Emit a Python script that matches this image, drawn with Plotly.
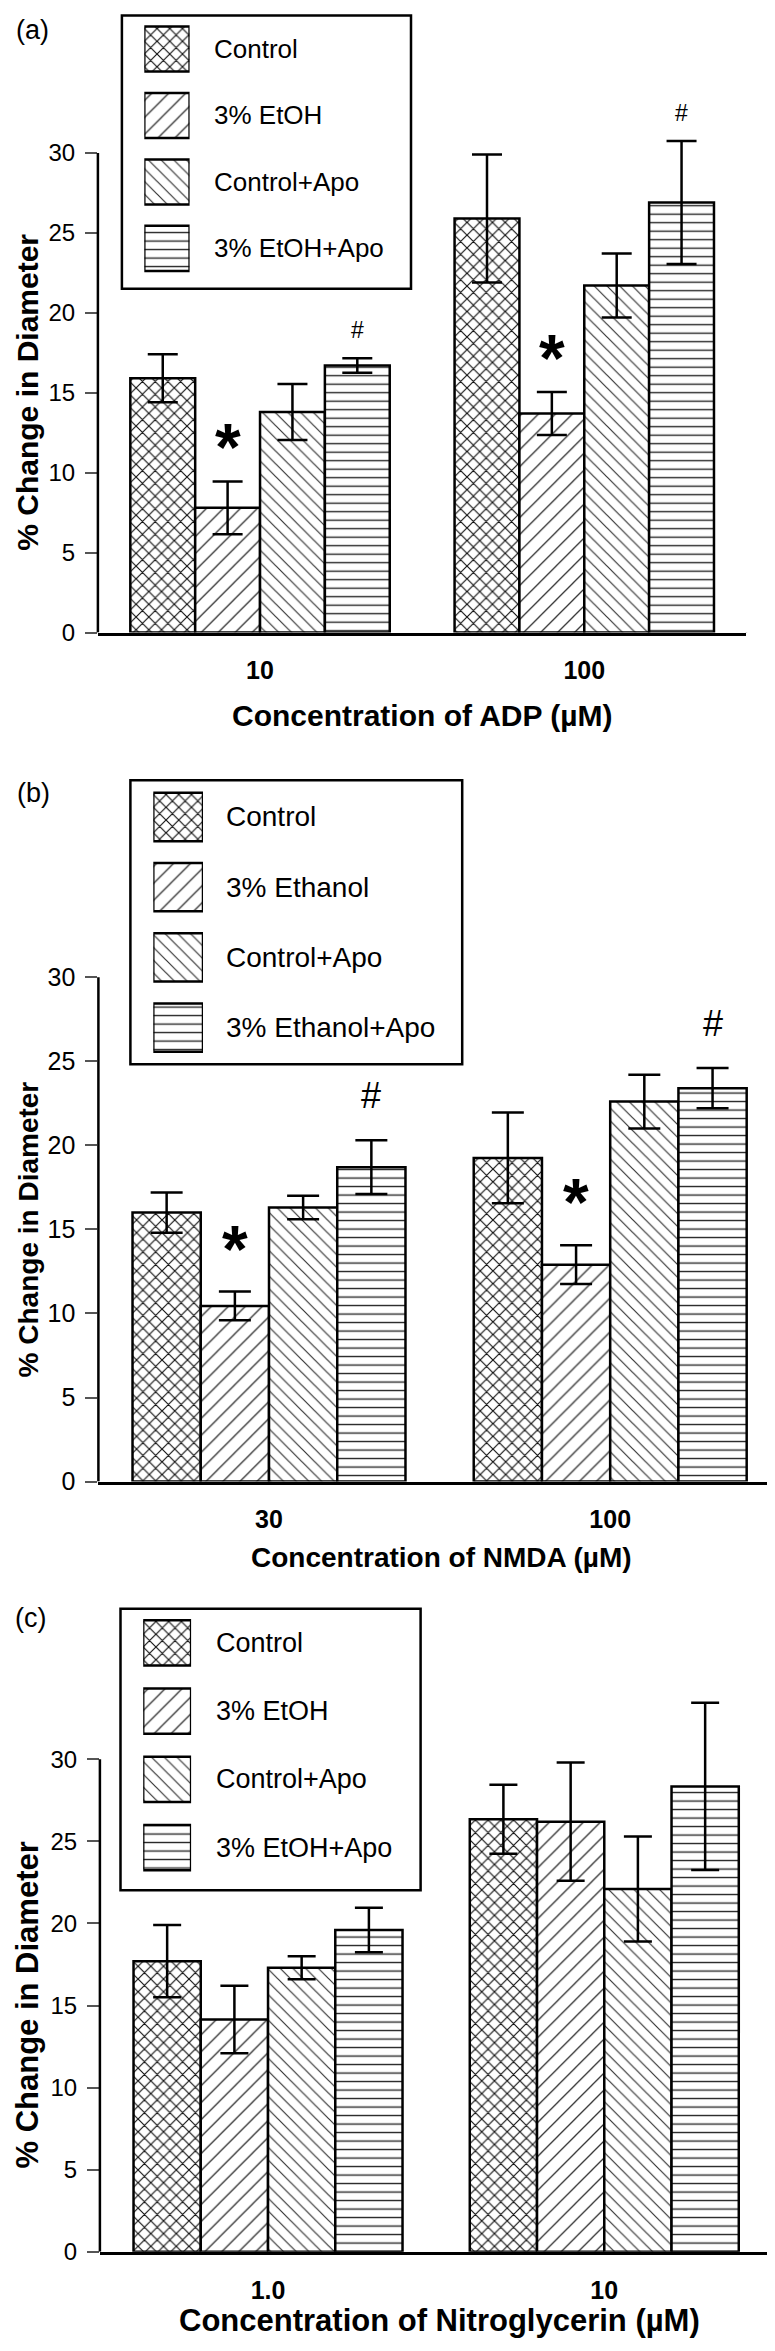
import plotly.graph_objects as go

W, H = 775, 2351
FONT = "Liberation Sans, Arial, Helvetica, sans-serif"

# ---------------- data ----------------
adp_conc = ["10", "100"]
adp_series = ["Control", "3% EtOH", "Control+Apo", "3% EtOH+Apo"]
adp_control = [15.9, 25.9]
adp_etoh = [7.8, 13.7]
adp_control_apo = [13.8, 21.7]
adp_etoh_apo = [16.7, 26.9]
adp_control_err = [1.5, 4.0]
adp_etoh_err = [1.65, 1.35]
adp_control_apo_err = [1.75, 2.0]
adp_etoh_apo_err = [0.45, 3.85]
adp_marks = [(0, 1, "*"), (1, 1, "*"), (0, 3, "#"), (1, 3, "#")]

nmda_conc = ["30", "100"]
nmda_series = ["Control", "3% Ethanol", "Control+Apo", "3% Ethanol+Apo"]
nmda_control = [16.0, 19.25]
nmda_ethanol = [10.45, 12.9]
nmda_control_apo = [16.3, 22.6]
nmda_ethanol_apo = [18.7, 23.4]
nmda_control_err = [1.2, 2.7]
nmda_ethanol_err = [0.85, 1.15]
nmda_control_apo_err = [0.7, 1.6]
nmda_ethanol_apo_err = [1.6, 1.2]
nmda_marks = [(0, 1, "*"), (1, 1, "*"), (0, 3, "#"), (1, 3, "#")]

ntg_conc = ["1.0", "10"]
ntg_series = ["Control", "3% EtOH", "Control+Apo", "3% EtOH+Apo"]
ntg_control = [17.7, 26.35]
ntg_etoh = [14.15, 26.2]
ntg_control_apo = [17.3, 22.1]
ntg_etoh_apo = [19.6, 28.35]
ntg_control_err = [2.2, 2.1]
ntg_etoh_err = [2.05, 3.6]
ntg_control_apo_err = [0.7, 3.2]
ntg_etoh_apo_err = [1.35, 5.1]
ntg_marks = []

y_ticks = [0, 5, 10, 15, 20, 25, 30]

# ---------------- styles ----------------
PAT_SHAPE = ["x", "/", "\\", "-"]
PAT_SIZE = [9, 12, 9, 8.5]
PAT_SOLID = [0.24, 0.11, 0.13, 0.16]
PAT_FG = ["#111", "#333", "#333", "#222"]

panels = [
    dict(label="(a)", cats=adp_conc, names=adp_series,
         means=[adp_control, adp_etoh, adp_control_apo, adp_etoh_apo],
         errs=[adp_control_err, adp_etoh_err, adp_control_apo_err, adp_etoh_apo_err],
         marks=adp_marks, xtitle="Concentration of ADP (\u00b5M)",
         x0=89.9, x1=738.4, y0=628.3, y30=145.75, rmax=36,
         box=(113.9, 7.5, 403.0, 282.5), swx=(136.3, 181.6), rows=(41.3, 241.8), swh=45.3,
         textx=204, legfont=26, labelxy=(6, 22.4), ytitle_size=30, ytitle_x=20,
         xtitle_xy=(414, 711.4), xtitle_size=30, tick_size=24, xtick_size=25, cap=15,
         ast=(66, -5), hsh=(23, 13)),
    dict(label="(b)", cats=nmda_conc, names=nmda_series,
         means=[nmda_control, nmda_ethanol, nmda_control_apo, nmda_ethanol_apo],
         errs=[nmda_control_err, nmda_ethanol_err, nmda_control_apo_err, nmda_ethanol_apo_err],
         marks=nmda_marks, xtitle="Concentration of NMDA (\u00b5M)",
         x0=90.4, x1=772.8, y0=1482.4, y30=975.0, rmax=36,
         box=(122.4, 777.0, 454.2, 1062.5), swx=(145.3, 195.0), rows=(813.8, 1025.7), swh=48.7,
         textx=216.4, legfont=28, labelxy=(7, 790), ytitle_size=28, ytitle_x=20,
         xtitle_xy=(433, 1559), xtitle_size=28, tick_size=25, xtick_size=25, cap=16,
         ast=(66, 4), hsh=(36, 22)),
    dict(label="(c)", cats=ntg_conc, names=ntg_series,
         means=[ntg_control, ntg_etoh, ntg_control_apo, ntg_etoh_apo],
         errs=[ntg_control_err, ntg_etoh_err, ntg_control_apo_err, ntg_etoh_apo_err],
         marks=ntg_marks, xtitle="Concentration of Nitroglycerin (\u00b5M)",
         x0=91.9, x1=764.4, y0=2257.2, y30=1761.8, rmax=36,
         box=(112.5, 1610.4, 412.6, 1893.5), swx=(135.2, 183.1), rows=(1644.7, 1850.6), swh=45.4,
         textx=205.8, legfont=27, labelxy=(5, 1619.5), ytitle_size=31, ytitle_x=20,
         xtitle_xy=(432, 2326.8), xtitle_size=31, tick_size=24, xtick_size=25, cap=14,
         ast=(66, -5), hsh=(23, 13)),
]


def px(x):
    return x / W


def py(y):
    return 1 - y / H


fig = go.Figure()
shapes = []
annotations = []
layout = {}

for i, p in enumerate(panels):
    n = i + 1
    ln = i + 4
    xa = "x" if n == 1 else f"x{n}"
    ya = "y" if n == 1 else f"y{n}"
    xl, yl = f"x{ln}", f"y{ln}"
    xkey = "xaxis" if n == 1 else f"xaxis{n}"
    ykey = "yaxis" if n == 1 else f"yaxis{n}"

    upp = (p["y0"] - p["y30"]) / 30.0
    ytop = p["y0"] - p["rmax"] * upp

    # main bars
    for s in range(4):
        fig.add_trace(go.Bar(
            x=p["cats"], y=p["means"][s], name=p["names"][s],
            xaxis=xa, yaxis=ya, showlegend=False, hoverinfo="skip",
            error_y=dict(type="data", array=p["errs"][s], visible=True,
                         color="black", thickness=2.5, width=p["cap"]),
            marker=dict(color="white", line=dict(color="black", width=2.5),
                        pattern=dict(shape=PAT_SHAPE[s], size=PAT_SIZE[s],
                                     solidity=PAT_SOLID[s], fgcolor=PAT_FG[s],
                                     bgcolor="white", fillmode="replace")),
        ))

    layout[xkey] = dict(domain=[px(p["x0"]), min(1.0, px(p["x1"]))], anchor=ya,
                        type="category", range=[-0.5, 1.5], showline=True,
                        linecolor="black", linewidth=2.5, ticks="", showgrid=False,
                        zeroline=False, ticklabelstandoff=14,
                        tickfont=dict(family=FONT, size=p["xtick_size"], color="black",
                                      weight="bold"))
    layout[ykey] = dict(domain=[py(p["y0"]), py(ytop)], anchor=xa,
                        range=[0, p["rmax"]], tickvals=y_ticks, ticks="outside",
                        ticklen=12, tickwidth=1.5, tickcolor="#555", showline=False,
                        showgrid=False, zeroline=False, ticklabelstandoff=5,
                        tickfont=dict(family=FONT, size=p["tick_size"], color="black"))

    # y axis line from 0 to 30
    shapes.append(dict(type="line", xref=f"{xa} domain", yref=ya, x0=0, x1=0,
                       y0=0, y1=30, line=dict(color="black", width=2.5)))
    # end ticks on the x axis
    for xe in (0, 1):
        shapes.append(dict(type="line", xref=f"{xa} domain", yref=ya, x0=xe, x1=xe,
                           ysizemode="pixel", yanchor=0, y0=0, y1=-14,
                           line=dict(color="#666", width=1.5)))

    # significance marks
    for g, s, sym in p["marks"]:
        xo = g + (s - 1.5) * 0.2
        top = p["means"][s][g] + p["errs"][s][g]
        if sym == "*":
            size, shift = p["ast"]
            f = dict(family=FONT, size=size, color="black", weight="bold")
        else:
            size, shift = p["hsh"]
            f = dict(family=FONT, size=size, color="black")
        annotations.append(dict(text=sym, xref=xa, yref=ya, x=xo, y=top,
                                yanchor="bottom", xanchor="center", yshift=shift,
                                showarrow=False, font=f))

    # axis titles
    annotations.append(dict(text="% Change in Diameter", xref="paper", yref=ya,
                            x=px(p["ytitle_x"]), y=15, textangle=-90, showarrow=False,
                            xanchor="center", yanchor="middle",
                            font=dict(family=FONT, size=p["ytitle_size"], color="black",
                                      weight="bold")))
    annotations.append(dict(text=p["xtitle"], xref="paper", yref="paper",
                            x=px(p["xtitle_xy"][0]), y=py(p["xtitle_xy"][1]),
                            xanchor="center", yanchor="middle", showarrow=False,
                            font=dict(family=FONT, size=p["xtitle_size"], color="black",
                                      weight="bold")))
    # panel label
    annotations.append(dict(text=p["label"], xref="paper", yref="paper",
                            x=px(p["labelxy"][0]), y=py(p["labelxy"][1]),
                            xanchor="left", yanchor="middle", showarrow=False,
                            font=dict(family=FONT, size=27, color="black")))

    # legend: box, swatches (bars on a hidden axis), texts
    bx0, by0, bx1, by1 = p["box"]
    shapes.append(dict(type="rect", xref="paper", yref="paper", x0=px(bx0), x1=px(bx1),
                       y0=py(by1), y1=py(by0), line=dict(color="black", width=2.5),
                       fillcolor="rgba(0,0,0,0)"))
    r1, r4 = p["rows"]
    pitch = (r4 - r1) / 3.0
    layout[f"xaxis{ln}"] = dict(domain=[px(p["swx"][0]), px(p["swx"][1])], anchor=yl,
                                range=[0, 1], visible=False, fixedrange=True)
    layout[f"yaxis{ln}"] = dict(domain=[py(r4 + pitch / 2), py(r1 - pitch / 2)], anchor=xl,
                                type="category", categoryorder="array",
                                categoryarray=p["names"], range=[3.5, -0.5],
                                visible=False, fixedrange=True)
    fig.add_trace(go.Bar(
        x=[1, 1, 1, 1], y=p["names"], orientation="h", xaxis=xl, yaxis=yl,
        width=[p["swh"] / pitch] * 4, showlegend=False, hoverinfo="skip",
        marker=dict(color="white", line=dict(color="black", width=2.5),
                    pattern=dict(shape=PAT_SHAPE, size=PAT_SIZE, solidity=PAT_SOLID,
                                 fgcolor=PAT_FG, bgcolor="white", fillmode="replace")),
    ))
    for k, nm in enumerate(p["names"]):
        annotations.append(dict(text=nm, xref="paper", yref=yl, x=px(p["textx"]), y=k,
                                xanchor="left", yanchor="middle", showarrow=False,
                                font=dict(family=FONT, size=p["legfont"], color="black")))

fig.update_layout(
    width=W, height=H, margin=dict(l=0, r=0, t=0, b=0),
    paper_bgcolor="white", plot_bgcolor="rgba(0,0,0,0)",
    barmode="group", bargap=0.2, bargroupgap=0.0, showlegend=False,
    shapes=shapes, annotations=annotations, font=dict(family=FONT, color="black"),
    **layout,
)

fig.write_html("out.html")
